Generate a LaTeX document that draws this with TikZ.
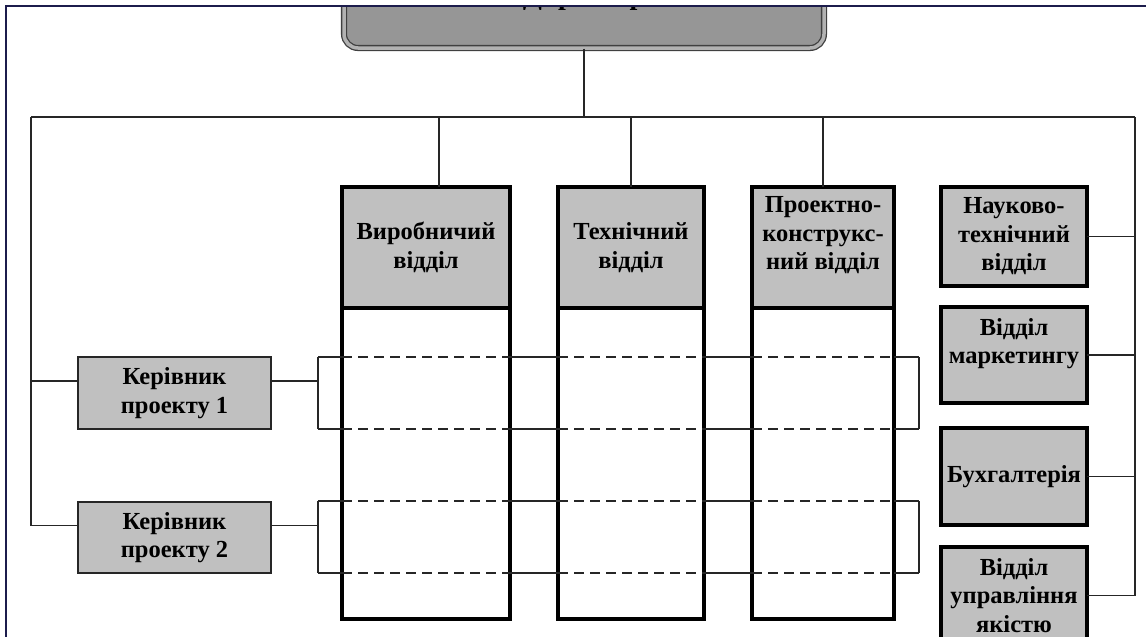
\documentclass[tikz,border=0pt]{standalone}
\usepackage{fontspec}
\setmainfont{Liberation Serif}
\definecolor{boxgray}{HTML}{C0C0C0}
\definecolor{topgray}{HTML}{969696}
\definecolor{framenavy}{HTML}{1C1C4C}
\begin{document}
\begin{tikzpicture}[x=1pt,y=-1pt,
  lbl/.style={font=\bfseries\fontsize{24.5}{28.5}\selectfont, align=center, text=black},
  thickbox/.style={lbl, draw=black, line width=3.4pt, inner sep=0pt, outer sep=0pt},
  dept/.style={thickbox, fill=boxgray, minimum width=146pt},
  colhead/.style={thickbox, fill=boxgray, minimum height=121pt},
  colbody/.style={thickbox, fill=white, minimum height=311pt},
  mgr/.style={lbl, draw=black!85, line width=1.4pt, fill=boxgray, inner sep=0pt, outer sep=0pt,
              minimum width=193pt},
  conn/.style={draw=black!85, line width=1.5pt},
  dashconn/.style={conn, dash pattern=on 10pt off 6pt},
]
\useasboundingbox (0,0) rectangle (1146,637);

\begin{scope}
\clip (6.6,6.6) rectangle (1146,637);

% head of the organisation, its upper part lies beyond the page frame
\node[draw=black!75, line width=1.3pt, double=black!30, double distance=3.5pt,
      fill=topgray, rounded corners=14pt, minimum width=480pt, minimum height=100pt,
      inner sep=0pt, font=\bfseries\fontsize{28}{32}\selectfont]
      (dir) at (584,-2) {Директор};

% main bus
\coordinate (busL) at (31,117);
\coordinate (busR) at (1135,117);
\draw[conn] (dir.south) -- (dir.south |- busL);
\draw[conn] (busL) -- (busR);

% functional departments (columns)
\node[colhead, minimum width=168pt] (col1h) at (426,247.5) {Виробничий\\відділ};
\node[colbody, minimum width=168pt] (col1b) at (426,463.5) {};
\node[colhead, minimum width=146pt] (col2h) at (631,247.5) {Технічний\\відділ};
\node[colbody, minimum width=146pt] (col2b) at (631,463.5) {};
\node[colhead, minimum width=142pt] (col3h) at (823,247.5) {Проектно-\\конструкс-\\ний відділ\\~};
\node[colbody, minimum width=142pt] (col3b) at (823,463.5) {};

\coordinate (col1top) at ([xshift=13pt]col1h.north);
\draw[conn] (col1top) -- (col1top |- busL);
\draw[conn] (col2h.north) -- (col2h.north |- busL);
\draw[conn] (col3h.north) -- (col3h.north |- busL);

% staff departments on the right
\node[dept, minimum height=99pt] (r1) at (1014,236.5) {Науково-\\технічний\\відділ};
\node[dept, minimum height=96pt] (r2) at (1014,355) {Відділ\\маркетингу\\~};
\node[dept, minimum height=97pt] (r3) at (1014,476.5) {Бухгалтерія};
\node[dept, minimum height=97pt] (r4) at (1014,595.5) {Відділ\\управління\\якістю};

\draw[conn] (busR) -- (busR |- r4.east) -- (r4.east);
\foreach \r in {r1,r2,r3}
  \draw[conn] (\r.east) -- (\r.east -| busR);

% project managers
\node[mgr, minimum height=72pt] (k1) at (174.5,393) {Керівник\\проекту 1};
\node[mgr, minimum height=71pt] (k2) at (174.5,537.5) {Керівник\\проекту 2};
\coordinate (k1w) at ([yshift=12pt]k1.west);
\coordinate (k1e) at ([yshift=12pt]k1.east);
\coordinate (k2w) at ([yshift=12pt]k2.west);
\coordinate (k2e) at ([yshift=12pt]k2.east);

\draw[conn] (busL) -- (busL |- k2w) -- (k2w);
\draw[conn] (k1w) -- (k1w -| busL);

% project brackets across the columns
\coordinate (p1t) at (318,357);
\coordinate (p1b) at (318,429);
\coordinate (p2t) at (318,501);
\coordinate (p2b) at (318,573);
\coordinate (q1t) at (919,357);
\coordinate (q1b) at (919,429);
\coordinate (q2t) at (919,501);
\coordinate (q2b) at (919,573);

\draw[conn] (k1e) -- (k1e -| p1t);
\draw[conn] (k2e) -- (k2e -| p2t);
\draw[conn] (p1t) -- (p1b);
\draw[conn] (p2t) -- (p2b);
\draw[conn] (q1t) -- (q1b);
\draw[conn] (q2t) -- (q2b);

\foreach \a/\b in {p1t/q1t, p1b/q1b, p2t/q2t, p2b/q2b} {
  \draw[conn] (\a) -- (col1b.west |- \a);
  \draw[dashconn] (col1b.west |- \a) -- (col1b.east |- \a);
  \draw[conn] (col1b.east |- \a) -- (col2b.west |- \a);
  \draw[dashconn] (col2b.west |- \a) -- (col2b.east |- \a);
  \draw[conn] (col2b.east |- \a) -- (col3b.west |- \a);
  \draw[dashconn] (col3b.west |- \a) -- (col3b.east |- \a);
  \draw[conn] (col3b.east |- \a) -- (\b);
}
\end{scope}

% page frame
\draw[framenavy, line width=1.5pt] (6,637) -- (6,6) -- (1146,6);
\end{tikzpicture}
\end{document}
